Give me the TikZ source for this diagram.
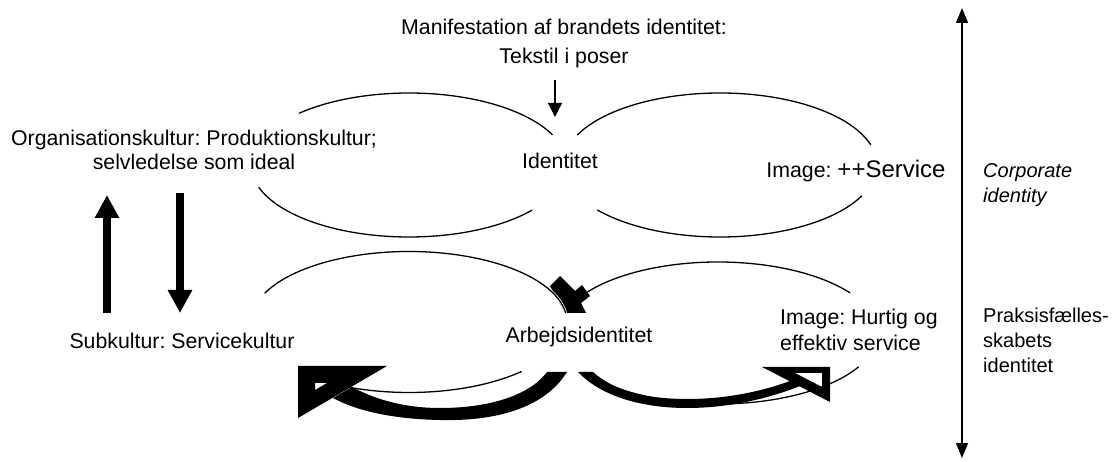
\documentclass[tikz,border=0pt]{standalone}
\usepackage{fontspec}
\setmainfont{Liberation Sans}
\usetikzlibrary{arrows.meta}
\frenchspacing

\begin{document}
\begin{tikzpicture}
	[x=1pt, y=-1pt,
	 txt/.style={font=\fontsize{21.3}{24.5}\selectfont, inner sep=0pt, align=center},
	 side/.style={font=\fontsize{20}{25}\selectfont, inner sep=0pt, align=left, anchor=west},
	 oval/.style={line width=1.3pt},
	 thin arrow/.style={line width=1.3pt, -{Triangle[length=14pt, width=14pt]}},
	 fat arrow/.style={line width=8pt, -{Triangle[length=23pt, width=23pt]}},
	 axis/.style={line width=1.5pt, {Triangle[length=15pt, width=12pt]}-{Triangle[length=15pt, width=12pt]}}]

	\useasboundingbox (0,0) rectangle (1117,462);

	% the four ovals, drawn as arcs with gaps for the texts
	\foreach \cx/\cy/\rx/\ry/\a/\b in {409/165/158/72/225.8/335.3, 409/165/158/72/38.8/162,
	    720/165/157/72/204.6/343.8, 720/165/157/72/25.3/141.4,
	    718/333/160/71/196.4/325.7, 718/333/160/71/28.4/146.7, 409/322/158/70.5/44.5/133}
	  \draw[oval] (\cx,\cy) ++(\a:{\rx} and {\ry}) arc[start angle=\a, end angle=\b, x radius=\rx, y radius=\ry];

	% small bent arrow above Arbejdsidentitet
	\fill (550,286) -- (560,276) -- (575,291) -- (582,285) -- (590,296) -- (581,303) -- (586,313) -- (565,313) -- cycle;
	\draw[oval, preaction={draw=white, line width=2.8pt}]
	  (409,322) ++(204:158 and 70.5) arc[start angle=204, end angle=352.7, x radius=158, y radius=70.5];

	% curved arrows
	\fill (547,372) -- (567,372) .. controls (540,415) and (480,421) .. (440,420)
	  .. controls (390,419) and (355,410) .. (333,398) -- (352,387)
	  .. controls (380,402) and (410,408) .. (440,408) .. controls (490,408) and (530,395) .. (547,372) -- cycle;
	\fill[even odd rule] (298,366) -- (387,366) -- (298,418) -- cycle (315,383) -- (327,383) -- (315,390) -- cycle;
	\fill (578,372) -- (593,372) .. controls (615,392) and (650,399) .. (687,399)
	  .. controls (725,399) and (760,392) .. (790,381) -- (800,386)
	  .. controls (770,398) and (730,408) .. (687,408) .. controls (650,408) and (605,400) .. (578,372) -- cycle;
	\fill[even odd rule] (762,367) -- (830,367) -- (830,402) -- cycle (795,373) -- (822,373) -- (822,387) -- cycle;

	% texts
	\node[txt] (manif) at (564,43) {Manifestation af brandets identitet:\\[4.5pt]Tekstil i poser};
	\node[txt] (org) at (194,150) {Organisationskultur: Produktionskultur;\\selvledelse som ideal};
	\node[txt] (ident) at (560,161) {Identitet};
	\node[txt] (imgserv) at (856,171) {Image: {\fontsize{24}{28}\selectfont ++Service}};
	\node[txt] (sub) at (182,341) {Subkultur: Servicekultur};
	\node[txt] (arbejd) at (579,337) {Arbejdsidentitet};
	\node[txt, align=left, anchor=west] (imghurt) at (780,330) {Image: Hurtig og\\[1.5pt]effektiv service};
	\node[side, font=\fontsize{20}{25}\selectfont\itshape] (corp) at (983,185) {Corporate\\identity};
	\node[side] (praks) at (983,340) {Praksisfælles-\\skabets\\identitet};

	% arrows
	\coordinate (m1) at (555,80);
	\coordinate (m2) at (555,117);
	\coordinate (up1) at (107,313);
	\coordinate (up2) at (107,195);
	\coordinate (dn1) at (180,193);
	\coordinate (dn2) at (180,313);
	\coordinate (ax1) at (962,8);
	\coordinate (ax2) at (962,458);
	\draw[thin arrow] (m1) -- (m2);
	\draw[fat arrow] (up1) -- (up2);
	\draw[fat arrow] (dn1) -- (dn2);
	\draw[axis] (ax1) -- (ax2);
\end{tikzpicture}
\end{document}
